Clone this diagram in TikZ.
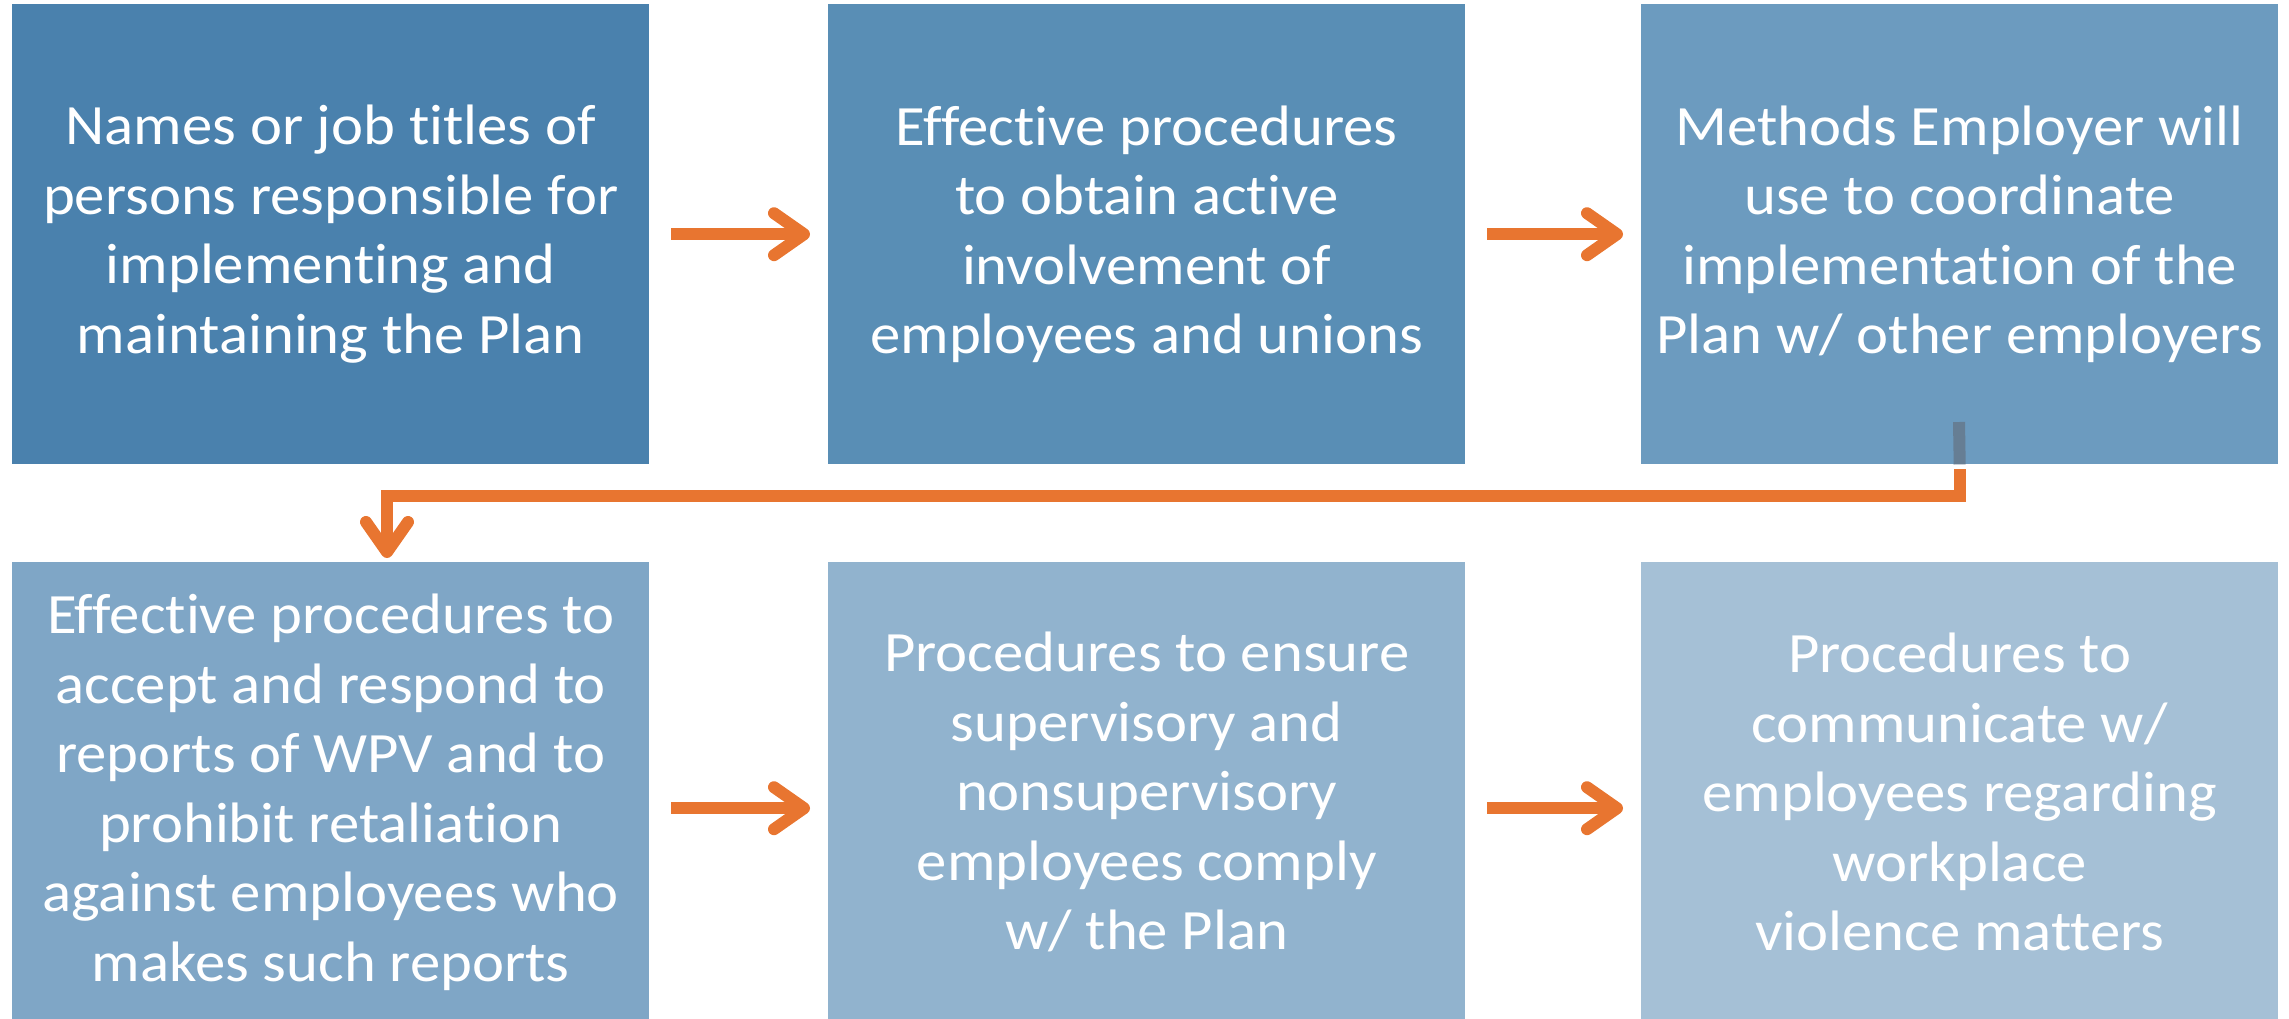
\documentclass[tikz,border=0pt]{standalone}
\usepackage{fontspec}
\setmainfont{Carlito}[Ligatures=NoCommon, FakeStretch=1.065]
\usetikzlibrary{arrows.meta}
\definecolor{cA}{RGB}{74,129,173}
\definecolor{cB}{RGB}{89,142,181}
\definecolor{cC}{RGB}{108,155,191}
\definecolor{cD}{RGB}{127,166,198}
\definecolor{cE}{RGB}{145,179,206}
\definecolor{cF}{RGB}{165,192,214}
\definecolor{orangeline}{RGB}{232,117,48}
\definecolor{stubgray}{RGB}{102,126,148}
\tikzset{
  stepbox/.style={anchor=north west, minimum width=637pt, minimum height=460pt, inner sep=0pt,
    text=white, align=center, font=\fontsize{57}{69.5}\selectfont},
  flowarrow/.style={draw=orangeline, line width=12pt,
    -{Straight Barb[round, length=30pt, width=42pt]}},
  flowline/.style={draw=orangeline, line width=12pt, line join=miter}
}
\begin{document}
\begin{tikzpicture}[x=1pt,y=-1pt]
\useasboundingbox (0,0) rectangle (2289,1018);
\node[stepbox, fill=cA] (b1) at (12,4) {Names or job titles of\\persons responsible for\\implementing and\\maintaining the Plan};
\node[stepbox, fill=cB] (b2) at (828,4) {Effective procedures\\to obtain active\\involvement of\\employees and unions};
\node[stepbox, fill=cC] (b3) at (1641,4) {Methods Employer will\\use to coordinate\\implementation of the\\Plan w/ other employers};
\node[stepbox, fill=cD] (b4) at (12,562) {Effective procedures to\\accept and respond to\\reports of WPV and to\\prohibit retaliation\\against employees who\\makes such reports};
\node[stepbox, fill=cE] (b5) at (828,562) {Procedures to ensure\\supervisory and\\nonsupervisory\\employees comply\\w/ the Plan};
\node[stepbox, fill=cF] (b6) at (1641,562) {Procedures to\\communicate w/\\employees regarding\\workplace\\violence matters};
% row arrows
\draw[flowarrow, shorten <=22pt, shorten >=18pt] (b1.east) -- (b2.west);
\draw[flowarrow, shorten <=22pt, shorten >=18pt] (b2.east) -- (b3.west);
\draw[flowarrow, shorten <=22pt, shorten >=18pt] ([yshift=-16pt]b4.east) -- ([yshift=-16pt]b5.west);
\draw[flowarrow, shorten <=22pt, shorten >=18pt] ([yshift=-16pt]b5.east) -- ([yshift=-16pt]b6.west);
% connector from row 1 to row 2
\coordinate (gs) at (1959,422);
\coordinate (turn) at (387,496);
\draw[draw=stubgray, line width=12pt] (gs) -- (b3.south);
\draw[flowline] ([yshift=-5pt]b3.south) |- (turn);
\draw[flowarrow, line join=miter] ([xshift=6pt]turn) -- (turn) -- (turn |- b4.north) [shorten >=4pt];
\end{tikzpicture}
\end{document}
